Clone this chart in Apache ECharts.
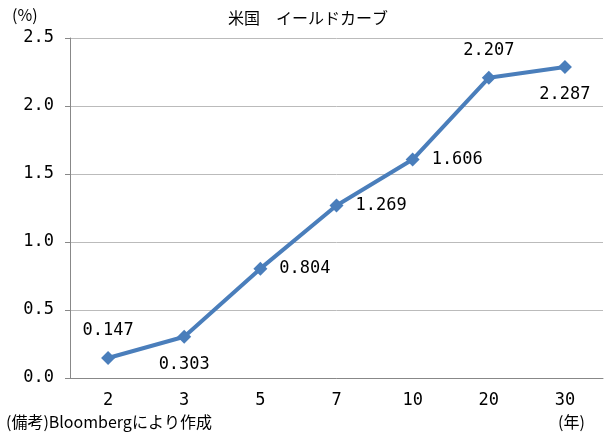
<!DOCTYPE html><html><head><meta charset="utf-8"><script src="https://cdn.jsdelivr.net/npm/echarts@6/dist/echarts.min.js"></script></head><body style="margin:0"><div id="c" style="width:616px;height:446px"></div><script>
const categories=['2','3','5','7','10','20','30'];
const values=[0.147,0.303,0.804,1.269,1.606,2.207,2.287];
const labelPos=['top','bottom','right','right','right','top','bottom'];
const F='"DejaVu Sans Mono","Noto Sans CJK JP",monospace';
const ch=echarts.init(document.getElementById('c'));
ch.setOption({
 animation:false,
 title:{text:'米国　イールドカーブ',left:'center',top:5,textStyle:{fontFamily:'"Noto Sans CJK JP"',fontSize:16,fontWeight:'normal',color:'#000'}},
 grid:{left:70,right:13,top:38,bottom:68},
 xAxis:{type:'category',data:categories,axisTick:{show:false},axisLine:{lineStyle:{color:'#888'}},axisLabel:{color:'#000',fontSize:17,fontFamily:F,margin:14}},
 yAxis:{type:'value',min:0,max:2.5,interval:0.5,axisLine:{show:true,lineStyle:{color:'#888'}},axisTick:{show:true,inside:false},
  axisLabel:{color:'#000',fontSize:17,fontFamily:F,formatter:v=>v.toFixed(1),margin:16},splitLine:{lineStyle:{color:'#bbb'}}},
 graphic:[
  {type:'text',left:12,top:7,style:{text:'(%)',font:'16px "Noto Sans CJK JP"',fill:'#000'}},
  {type:'text',left:558,top:414,style:{text:'(年)',font:'16px "Noto Sans CJK JP"',fill:'#000'}},
  {type:'text',left:6,top:414,style:{text:'(備考)Bloombergにより作成',font:'16px "Noto Sans CJK JP"',fill:'#000'}}
 ],
 series:[{type:'line',data:values.map((v,i)=>({value:v,label:{position:labelPos[i]}})),symbol:'diamond',symbolSize:14,
  lineStyle:{color:'#4a7ebb',width:4},itemStyle:{color:'#4a7ebb'},
  label:{show:true,fontSize:17,fontFamily:F,color:'#000',distance:12,formatter:p=>p.value.toFixed(3)}}]
});
</script></body></html>
